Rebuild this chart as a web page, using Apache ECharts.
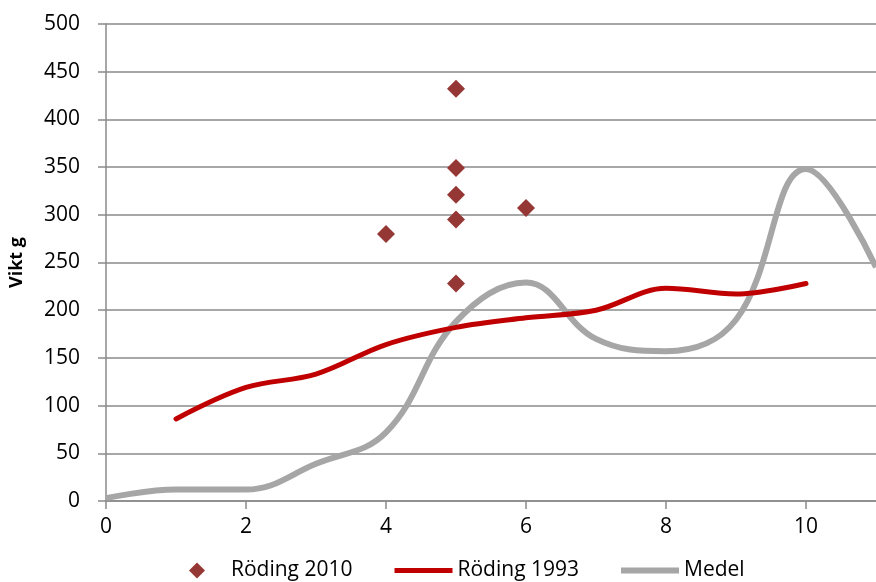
<!DOCTYPE html>
<html>
<head>
<meta charset="utf-8">
<script src="https://cdn.jsdelivr.net/npm/echarts@6/dist/echarts.min.js"></script>
<style>html,body{margin:0;padding:0;background:#fff;overflow:hidden;width:876px;height:582px}#c{position:absolute;left:0;top:0;width:946px;height:582px}</style>
</head>
<body>
<div id="c"></div>
<script>
// Data
const rod2010X = [4, 5, 5, 5, 5, 5, 6];
const rod2010Y = [280, 432, 349, 321, 295, 228, 307];
const rod1993X = [1, 2, 3, 4, 5, 6, 7, 8, 9, 10];
const rod1993Y = [86, 119, 133, 164, 182, 192, 200, 223, 217, 228];
const medelX = [0, 1, 2, 3, 4, 5, 6, 7, 8, 9, 10, 11];
const medelY = [3, 12, 12, 39, 72, 188, 229, 170, 157, 190, 348, 245];
const seriesNames = ['Röding 2010', 'Röding 1993', 'Medel'];
const yAxisTitle = 'Vikt g';

const zip = (xs, ys) => xs.map((x, i) => [x, ys[i]]);
const font = 'Open Sans';
const gridColor = '#8A8A8A';

const chart = echarts.init(document.getElementById('c'), null, {renderer: 'canvas', width: 946, height: 582});
chart.setOption({
  animation: false,
  backgroundColor: '#ffffff',
  grid: {left: 106, right: 0, top: 24, bottom: 81, containLabel: false, outerBoundsMode: 'none'},
  legend: {
    left: 184, top: 555, itemGap: 42, itemWidth: 58, itemHeight: 16,
    symbolKeepAspect: true,
    textStyle: {fontFamily: font, fontSize: 21, color: '#000'},
    data: [
      {name: seriesNames[0], icon: 'path://M0,-1L1,0L0,1L-1,0Z', itemStyle: {color: '#953735'}},
      {name: seriesNames[1], icon: 'path://M0,0L58,0L58,5L0,5Z', itemStyle: {color: '#C00000'}},
      {name: seriesNames[2], icon: 'path://M0,0L58,0L58,6L0,6Z', itemStyle: {color: '#A6A6A6'}}
    ]
  },
  xAxis: {
    type: 'value', min: 0, max: 12, interval: 2,
    axisLine: {show: true, lineStyle: {color: gridColor, width: 1.5}},
    axisTick: {show: true, inside: false, length: 8, lineStyle: {color: gridColor, width: 1.5}},
    axisLabel: {fontFamily: font, fontSize: 21, color: '#000', margin: 16},
    splitLine: {show: false}
  },
  yAxis: {
    type: 'value', min: 0, max: 500, interval: 50,
    name: yAxisTitle, nameLocation: 'middle', nameGap: 80, nameRotate: 90,
    nameTextStyle: {fontFamily: font, fontSize: 18, fontWeight: 'bold', color: '#000'},
    axisLine: {show: true, lineStyle: {color: gridColor, width: 1.5}},
    axisTick: {show: true, inside: false, length: 8, lineStyle: {color: gridColor, width: 1.5}},
    axisLabel: {fontFamily: font, fontSize: 21, color: '#000', margin: 26},
    splitLine: {show: true, lineStyle: {color: gridColor, width: 1.5}}
  },
  series: [
    {
      name: seriesNames[0], type: 'scatter', symbol: 'diamond', symbolSize: 18,
      itemStyle: {color: '#953735', opacity: 1},
      data: zip(rod2010X, rod2010Y), z: 5
    },
    {
      name: seriesNames[1], type: 'line', smooth: 0.35, symbol: 'none', showSymbol: false,
      lineStyle: {color: '#C00000', width: 5, cap: 'round'}, itemStyle: {color: '#C00000'},
      data: zip(rod1993X, rod1993Y), z: 3
    },
    {
      name: seriesNames[2], type: 'line', smooth: 0.4, symbol: 'none', showSymbol: false,
      lineStyle: {color: '#A6A6A6', width: 6}, itemStyle: {color: '#A6A6A6'},
      data: zip(medelX, medelY), z: 2
    }
  ]
});
</script>
</body>
</html>
